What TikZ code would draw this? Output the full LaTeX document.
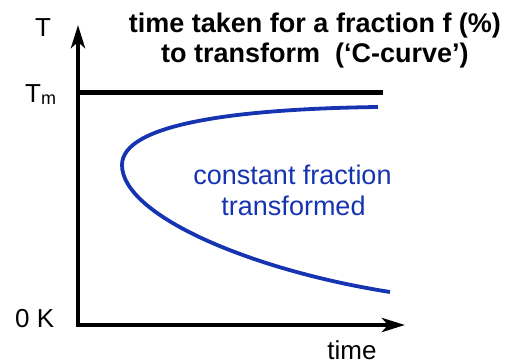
\documentclass[tikz,border=0pt]{standalone}
\usepackage{fontspec}
\setmainfont{Liberation Sans}
\usetikzlibrary{arrows.meta}
\definecolor{cblue}{RGB}{22,52,178}
\begin{document}
\begin{tikzpicture}[x=1pt,y=-1pt,
  axis/.style={line width=4.8pt, arrows={Stealth[length=23pt,width=14pt,inset=6pt]-Stealth[length=23pt,width=14pt,inset=6pt]}},
  lbl/.style={inner sep=0pt, font=\fontsize{26}{30}\selectfont},
  ttl/.style={inner sep=0pt, anchor=base, font=\fontsize{27}{30}\selectfont\bfseries},
  btxt/.style={inner sep=0pt, anchor=base, text=cblue, font=\fontsize{27}{30}\selectfont},
  ccurve/.style={line width=3.8pt, draw=cblue}]
\useasboundingbox (0,0) rectangle (511,363);
\coordinate (origin) at (78,325);
\coordinate (ytop) at (78,25);
\coordinate (xend) at (405,325);
\coordinate (tmL) at (78,92.5);
\coordinate (tmR) at (383,92.5);
\coordinate (ctop) at (378,107);
\coordinate (cnose) at (122,165);
\coordinate (cbot) at (390,292);
\draw[axis] (ytop) -- (origin) -- (xend);
\draw[line width=5pt] (tmL) -- (tmR);
\draw[ccurve] (ctop) .. controls (230,109) and (122,125) .. (cnose)
  .. controls (122,215) and (250,270) .. (cbot);
\node[ttl] (t1) at (315,33) {time taken for a fraction f (\%)};
\node[ttl] (t2) at (315,63) {to transform\ \ (‘C-curve’)};
\node[lbl, anchor=base] (T) at (43,37) {T};
\node[lbl, anchor=base west] (Tm) at (25,103) {T\raisebox{-2pt}{\fontsize{18}{18}\selectfont m}};
\node[lbl, anchor=base west] (zk) at (15,327) {0 K};
\node[lbl, anchor=base] (time) at (352,359) {time};
\node[btxt] (b1) at (292.5,185) {constant fraction};
\node[btxt] (b2) at (293.5,216) {transformed};
\end{tikzpicture}
\end{document}
